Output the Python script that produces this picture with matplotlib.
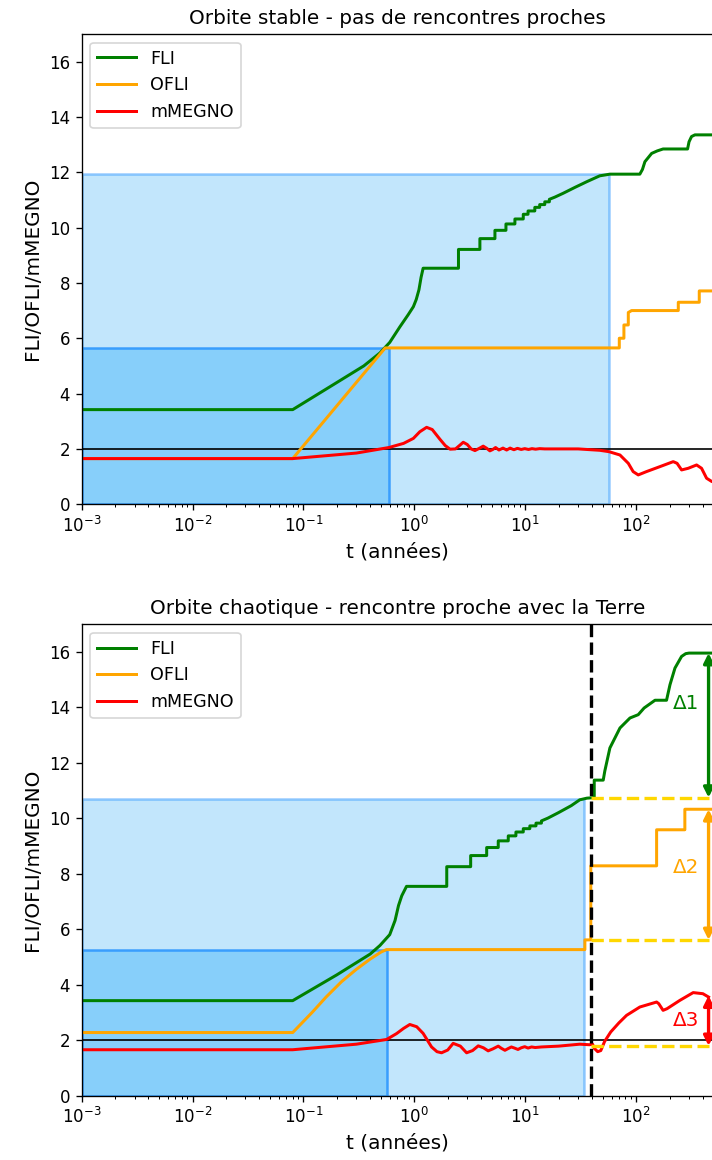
import matplotlib
matplotlib.use("Agg")
import matplotlib.pyplot as plt
from matplotlib.patches import Rectangle

# --- orbite stable ---
t_fli_s = [1e-3, 0.08, 0.2, 0.35, 0.49, 0.6, 0.74, 0.88, 0.98, 1.04, 1.1, 1.15, 1.2,
           2.5, 2.5, 3.9, 3.9, 5.33, 5.33, 6.7, 6.7, 8.07, 8.07, 9.6, 9.6,
           10.6, 10.6, 12.2, 12.2, 13.5, 13.5, 15.0, 15.0, 16.5, 16.5, 18.5,
           22, 28, 36, 47, 58, 108, 114, 120, 138, 155, 175, 291, 300, 316,
           339, 500]
y_fli_s = [3.42, 3.42, 4.4, 5.0, 5.47, 5.85, 6.41, 6.85, 7.14, 7.4, 7.75, 8.2, 8.53,
           8.53, 9.21, 9.21, 9.6, 9.6, 9.9, 9.9, 10.13, 10.13, 10.31, 10.31, 10.48,
           10.48, 10.6, 10.6, 10.73, 10.73, 10.83, 10.83, 10.93, 10.93, 11.02, 11.1,
           11.24, 11.45, 11.66, 11.87, 11.93, 11.93, 12.1, 12.38, 12.68, 12.77, 12.84, 12.84, 13.1, 13.29,
           13.35, 13.35]

t_ofli_s = [1e-3, 0.08, 0.546, 70.5, 70.5, 77.6, 77.6, 85, 85, 91, 240, 240,
            371, 371, 500]
y_ofli_s = [1.65, 1.65, 5.65, 5.65, 6.0, 6.0, 6.48, 6.48, 6.93, 7.0, 7.0, 7.3,
            7.3, 7.71, 7.71]

t_megno_s = [1e-3, 0.08, 0.3, 0.59, 0.8, 0.98, 1.12, 1.29, 1.45, 1.7, 1.9, 2.1,
             2.35, 2.55, 2.76, 3.0, 3.25, 3.52, 3.85, 4.18, 4.5, 4.8, 5.1, 5.4,
             5.8, 6.3, 6.8, 7.3, 7.9, 8.5, 9.2, 9.9, 10.7, 11.5, 12.4, 13.5, 15,
             30, 47, 57, 71.5, 85, 94, 104.5, 124, 164, 216, 234, 257, 295, 351,
             389, 432, 482, 500]
y_megno_s = [1.65, 1.65, 1.85, 2.05, 2.2, 2.38, 2.62, 2.78, 2.7, 2.35, 2.12, 1.99,
             2.0, 2.12, 2.24, 2.16, 2.0, 1.94, 2.02, 2.1, 2.02, 1.93, 1.98, 2.05,
             1.96, 2.03, 1.96, 2.03, 1.97, 2.02, 1.98, 2.01, 1.98, 2.01, 1.99, 2.01, 2.0,
             2.0, 1.95, 1.9, 1.78, 1.48, 1.18, 1.06, 1.18, 1.36, 1.54, 1.48, 1.24, 1.3, 1.42,
             1.3, 0.94, 0.82, 0.82]

# --- orbite chaotique ---
t_fli_c = [1e-3, 0.08, 0.2, 0.4, 0.49, 0.6, 0.67, 0.72, 0.77, 0.85, 1.96, 1.96, 3.22,
           3.22, 4.49, 4.49, 5.71, 5.71, 7.03, 7.03, 8.24, 8.24, 9.6, 9.6, 11,
           11, 12.5, 12.5, 14, 14, 16, 20, 26, 31, 36, 41.9, 41.9, 50.5, 52.2,
           58, 71.5, 88, 104.5, 118, 148, 188, 202, 224, 257, 280, 300, 500]
y_fli_c = [3.42, 3.42, 4.35, 5.1, 5.41, 5.8, 6.31, 6.85, 7.2, 7.54, 7.54, 8.25, 8.25,
           8.65, 8.65, 8.94, 8.94, 9.18, 9.18, 9.36, 9.36, 9.5, 9.5, 9.62, 9.62,
           9.72, 9.72, 9.82, 9.82, 9.9, 10.0, 10.2, 10.45, 10.66, 10.72, 10.74, 11.37, 11.37, 11.7,
           12.53, 13.25, 13.61, 13.73, 13.97, 14.25, 14.25, 14.81, 15.41, 15.83, 15.93, 15.95, 15.95]

t_ofli_c = [1e-3, 0.08, 0.12, 0.16, 0.22, 0.3, 0.4, 0.5, 0.56, 34.5, 34.5, 39, 39,
            153, 153, 275, 275, 500]
y_ofli_c = [2.27, 2.27, 3.0, 3.55, 4.1, 4.55, 4.92, 5.17, 5.26, 5.26, 5.61, 5.61, 8.28,
            8.28, 9.58, 9.58, 10.32, 10.32]

t_megno_c = [1e-3, 0.08, 0.3, 0.562, 0.69, 0.8, 0.91, 1.05, 1.2, 1.43, 1.6, 1.76,
             2.0, 2.24, 2.6, 2.96, 3.35, 3.77, 4.2, 4.63, 5.1, 5.71, 6.1, 6.56,
             7.0, 7.5, 8.0, 8.6, 9.2, 9.9, 10.6, 11.4, 12.3, 14, 20, 31, 38,
             40.5, 42, 45, 48, 52, 59, 70, 82, 108, 153, 160, 175, 190, 248,
             327, 400, 450]
y_megno_c = [1.65, 1.65, 1.85, 2.02, 2.23, 2.42, 2.56, 2.48, 2.24, 1.75, 1.58, 1.54,
             1.64, 1.88, 1.78, 1.54, 1.62, 1.79, 1.72, 1.61, 1.68, 1.78, 1.7, 1.63,
             1.69, 1.75, 1.71, 1.66, 1.72, 1.76, 1.71, 1.75, 1.73, 1.75, 1.78, 1.85, 1.83,
             1.85, 1.7, 1.58, 1.62, 1.95, 2.29, 2.62, 2.89, 3.19, 3.37, 3.31, 3.07, 3.13, 3.43,
             3.71, 3.67, 3.55]

# zones (t de fin, valeur atteinte)
zones_s = [(57.0, 11.93), (0.59, 5.65)]
zones_c = [(33.8, 10.7), (0.565, 5.26)]

t_rencontre = 39.0
t_fleche = 450.0
avant = {"FLI": 10.74, "OFLI": 5.61, "mMEGNO": 1.79}
apres = {"FLI": 15.95, "OFLI": 10.32, "mMEGNO": 3.6}
delta_pos = {"FLI": (282, 14.15), "OFLI": (282, 8.22), "mMEGNO": (282, 2.71)}
delta_txt = {"FLI": "Δ1", "OFLI": "Δ2", "mMEGNO": "Δ3"}

couleurs = {"FLI": "green", "OFLI": "orange", "mMEGNO": "red"}


def draw_panel(ax, title, zones, series):
    light, dark = zones
    ax.add_patch(Rectangle((1e-3, 0), light[0] - 1e-3, light[1],
                           facecolor=(0.53, 0.81, 0.98, 0.5),
                           edgecolor=(0.12, 0.56, 1.0, 0.45), lw=1.5))
    ax.add_patch(Rectangle((1e-3, 0), dark[0] - 1e-3, dark[1],
                           facecolor=(0.53, 0.81, 0.98, 1.0),
                           edgecolor=(0.12, 0.56, 1.0, 0.8), lw=1.5))
    ax.axhline(2, color="k", lw=1)
    for name, (t, y) in series.items():
        ax.plot(t, y, color=couleurs[name], lw=1.8, label=name)
    ax.set_xscale("log")
    ax.set_xlim(1e-3, 500)
    ax.set_ylim(0, 17)
    ax.set_yticks(range(0, 17, 2))
    ax.set_title(title, fontsize=12)
    ax.set_xlabel("t (années)", fontsize=12)
    ax.set_ylabel("FLI/OFLI/mMEGNO", fontsize=12)
    ax.legend(loc="upper left", fontsize=10.5, handlelength=2.2)


fig = plt.figure(figsize=(712 / 120, 1160 / 120), dpi=120)
ax1 = fig.add_axes([0.1147, 0.5653, 0.8876, 0.4055])
ax2 = fig.add_axes([0.1147, 0.0556, 0.8876, 0.4065])

draw_panel(ax1, "Orbite stable - pas de rencontres proches", zones_s,
           {"FLI": (t_fli_s, y_fli_s), "OFLI": (t_ofli_s, y_ofli_s),
            "mMEGNO": (t_megno_s, y_megno_s)})
draw_panel(ax2, "Orbite chaotique - rencontre proche avec la Terre", zones_c,
           {"FLI": (t_fli_c, y_fli_c), "OFLI": (t_ofli_c, y_ofli_c),
            "mMEGNO": (t_megno_c, y_megno_c)})

# rencontre proche + écarts
ax2.axvline(t_rencontre, color="k", ls="--", lw=2)
for name in ["FLI", "OFLI", "mMEGNO"]:
    ax2.plot([t_rencontre, t_fleche], [avant[name], avant[name]],
             color="gold", ls="--", lw=2)
    ax2.annotate("", xy=(t_fleche, apres[name]), xytext=(t_fleche, avant[name]),
                 arrowprops=dict(arrowstyle="<|-|>", color=couleurs[name], lw=2,
                                 shrinkA=0, shrinkB=0, mutation_scale=12))
    ax2.text(*delta_pos[name], delta_txt[name], color=couleurs[name],
             fontsize=12, ha="center", va="center")

fig.savefig("out.png", dpi=120)
